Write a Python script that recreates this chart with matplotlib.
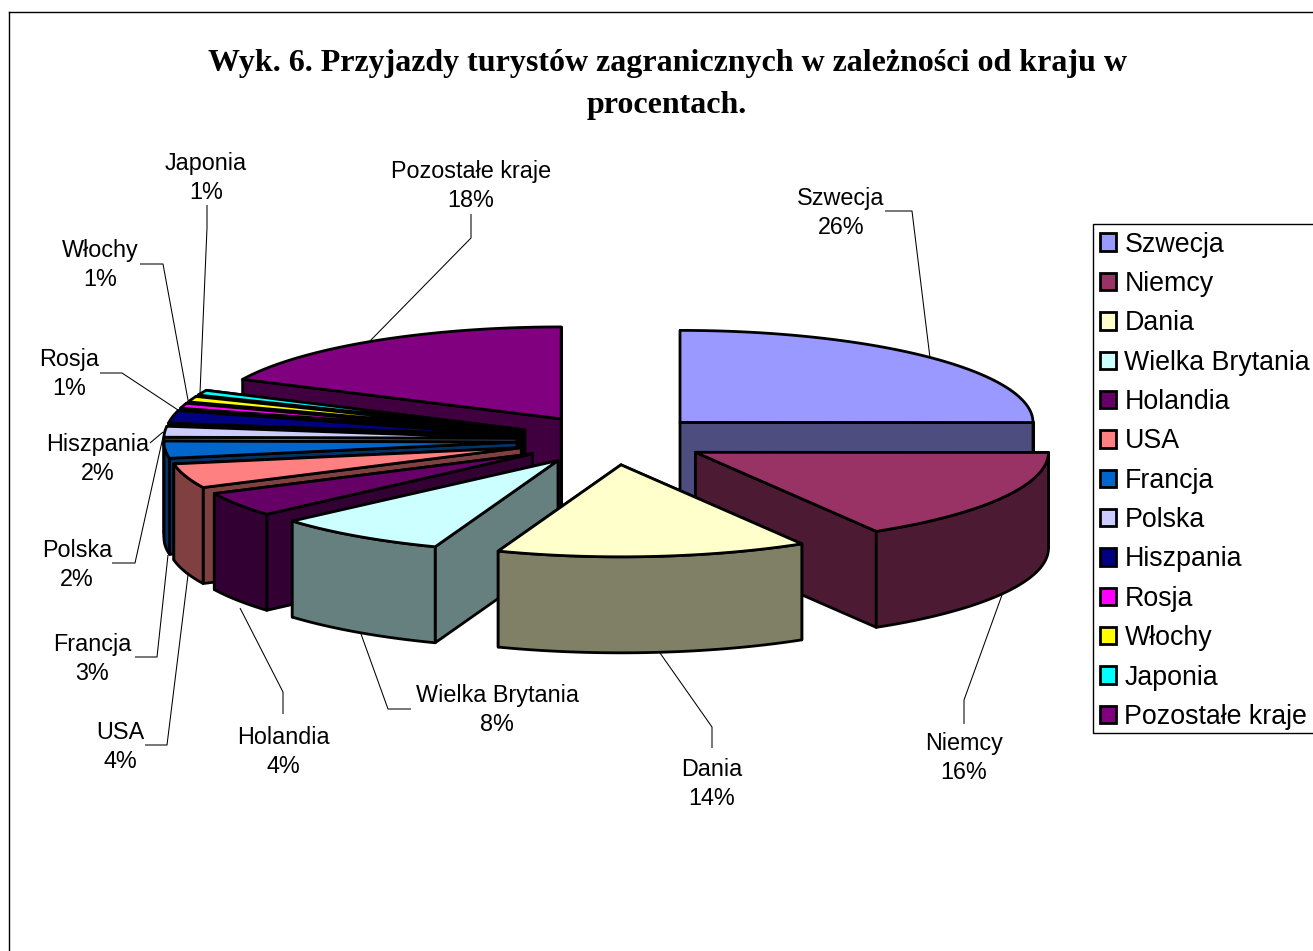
import numpy as np
import matplotlib
matplotlib.use("Agg")
import matplotlib.pyplot as plt
from matplotlib.patches import Polygon, Patch, Rectangle
from matplotlib.colors import to_rgb

# ---- data ----
categories = ["Szwecja", "Niemcy", "Dania", "Wielka Brytania", "Holandia", "USA", "Francja",
              "Polska", "Hiszpania", "Rosja", "Włochy", "Japonia", "Pozostałe kraje"]
values = [25.0, 16.4, 14.2, 7.9, 4.3, 4.3, 3.0, 1.9, 2.2, 0.9, 1.0, 0.9, 17.9]
percent_labels = ["26%", "16%", "14%", "8%", "4%", "4%", "3%", "2%", "2%", "1%", "1%", "1%", "18%"]
colors = ["#9999FF", "#993366", "#FFFFCC", "#CCFFFF", "#660066", "#FF8080", "#0066CC",
          "#CCCCFF", "#000080", "#FF00FF", "#FFFF00", "#00FFFF", "#800080"]
draw_order = [0, 12, 11, 10, 9, 8, 7, 6, 5, 4, 3, 1, 2]

# ---- layout (pixel space of the figure) ----
CX, CY, RX, RY, DEPTH, EXPLODE = 612.3, 440, 353, 92, 96, 0.271
label_pos = [(841, 213), (964, 758), (712, 784), (497, 710), (283, 752), (120, 747), (92, 659),
             (77, 565), (98, 459), (69, 374), (100, 265), (206, 178), (471, 186)]
leaders = [[(885, 211), (912, 211), (930, 358)],
           [(964, 724), (964, 700), (1002, 595)],
           [(712, 748), (712, 727), (660, 653)],
           [(411, 709), (388, 709), (361, 634)],
           [(283, 714), (283, 692), (240, 608)],
           [(145, 745), (167, 745), (188, 575)],
           [(135, 657), (157, 657), (168, 555)],
           [(112, 563), (135, 563), (163, 437)],
           [(150, 443), (163, 432)],
           [(100, 373), (122, 373), (178, 410)],
           [(140, 264), (163, 264), (188, 400)],
           [(207, 205), (207, 228), (200, 393)],
           [(471, 214), (471, 238), (370, 341)]]

fig = plt.figure(figsize=(13.13, 9.51), dpi=100, facecolor="white")
ax = fig.add_axes([0, 0, 1, 1])
ax.set_xlim(0, 1313)
ax.set_ylim(951, 0)
ax.axis("off")

LW = 2.0
edge = dict(edgecolor="black", linewidth=LW, joinstyle="round")

def rim(ox, oy, t):
    t = np.radians(t)
    return np.column_stack([ox + RX * np.sin(t), oy - RY * np.cos(t)])

bounds = np.concatenate([[0], np.cumsum(values)]) / np.sum(values) * 360
z = 10
for i in draw_order:
    a, b = bounds[i], bounds[i + 1]
    mid = np.radians((a + b) / 2)
    ox = CX + EXPLODE * RX * np.sin(mid)
    oy = CY - EXPLODE * RY * np.cos(mid)
    col = np.array(to_rgb(colors[i]))
    side = tuple(col * 0.5)
    down = np.array([0, DEPTH])
    apex = np.array([ox, oy])
    # radial walls: the one facing away from the viewer goes first
    for t in ((b, a) if (a + b) / 2 > 180 else (a, b)):
        p = rim(ox, oy, t)[0]
        ax.add_patch(Polygon([apex, p, p + down, apex + down], closed=True, facecolor=side, zorder=z, **edge))
        z += 1
    # outer curved wall, only its front part
    lo, hi = max(a, 90), min(b, 270)
    if hi > lo:
        arc = rim(ox, oy, np.linspace(lo, hi, 60))
        ax.add_patch(Polygon(np.vstack([arc, (arc + down)[::-1]]), closed=True, facecolor=side, zorder=z, **edge))
        z += 1
    # top face
    arc = rim(ox, oy, np.linspace(a, b, 80))
    ax.add_patch(Polygon(np.vstack([apex, arc]), closed=True, facecolor=colors[i], zorder=z, **edge))
    z += 1

# leader lines and labels
for i, pts in enumerate(leaders):
    xs, ys = zip(*pts)
    ax.plot(xs, ys, color="black", lw=0.75, zorder=5, solid_capstyle="butt")
for i, (x, y) in enumerate(label_pos):
    ax.text(x, y, f"{categories[i]}\n{percent_labels[i]}", ha="center", va="center",
            fontsize=16.8, family="Liberation Sans", color="black", linespacing=1.35, zorder=6)

# chart frame
ax.plot([9, 9], [951, 12], color="black", lw=1.0, zorder=1)
ax.plot([9, 1313], [12, 12], color="black", lw=1.0, zorder=1)

# title
ax.text(667, 63, "Wyk. 6. Przyjazdy turystów zagranicznych w zależności od kraju w",
        ha="center", va="center", fontsize=23.03, family="Liberation Serif", weight="bold")
ax.text(667, 105, "procentach.", ha="center", va="center", fontsize=23.03,
        family="Liberation Serif", weight="bold")

# legend
ax.add_patch(Rectangle((1092.5, 223.5), 240, 509.5, facecolor="white", edgecolor="black",
                       linewidth=1.0, zorder=190))
handles = [Patch(facecolor=c, edgecolor="black", linewidth=LW) for c in colors]
leg = ax.legend(handles, categories, loc="upper left", bbox_to_anchor=(1091.5, 223.5),
                bbox_transform=ax.transData, borderaxespad=0, frameon=False,
                handlelength=0.62, handleheight=0.62,
                handletextpad=0.31, borderpad=0.3, labelspacing=0.50,
                prop={"family": "Liberation Sans", "size": 19.25})
leg.set_zorder(200)

fig.savefig("out.png", dpi=100, facecolor="white")
